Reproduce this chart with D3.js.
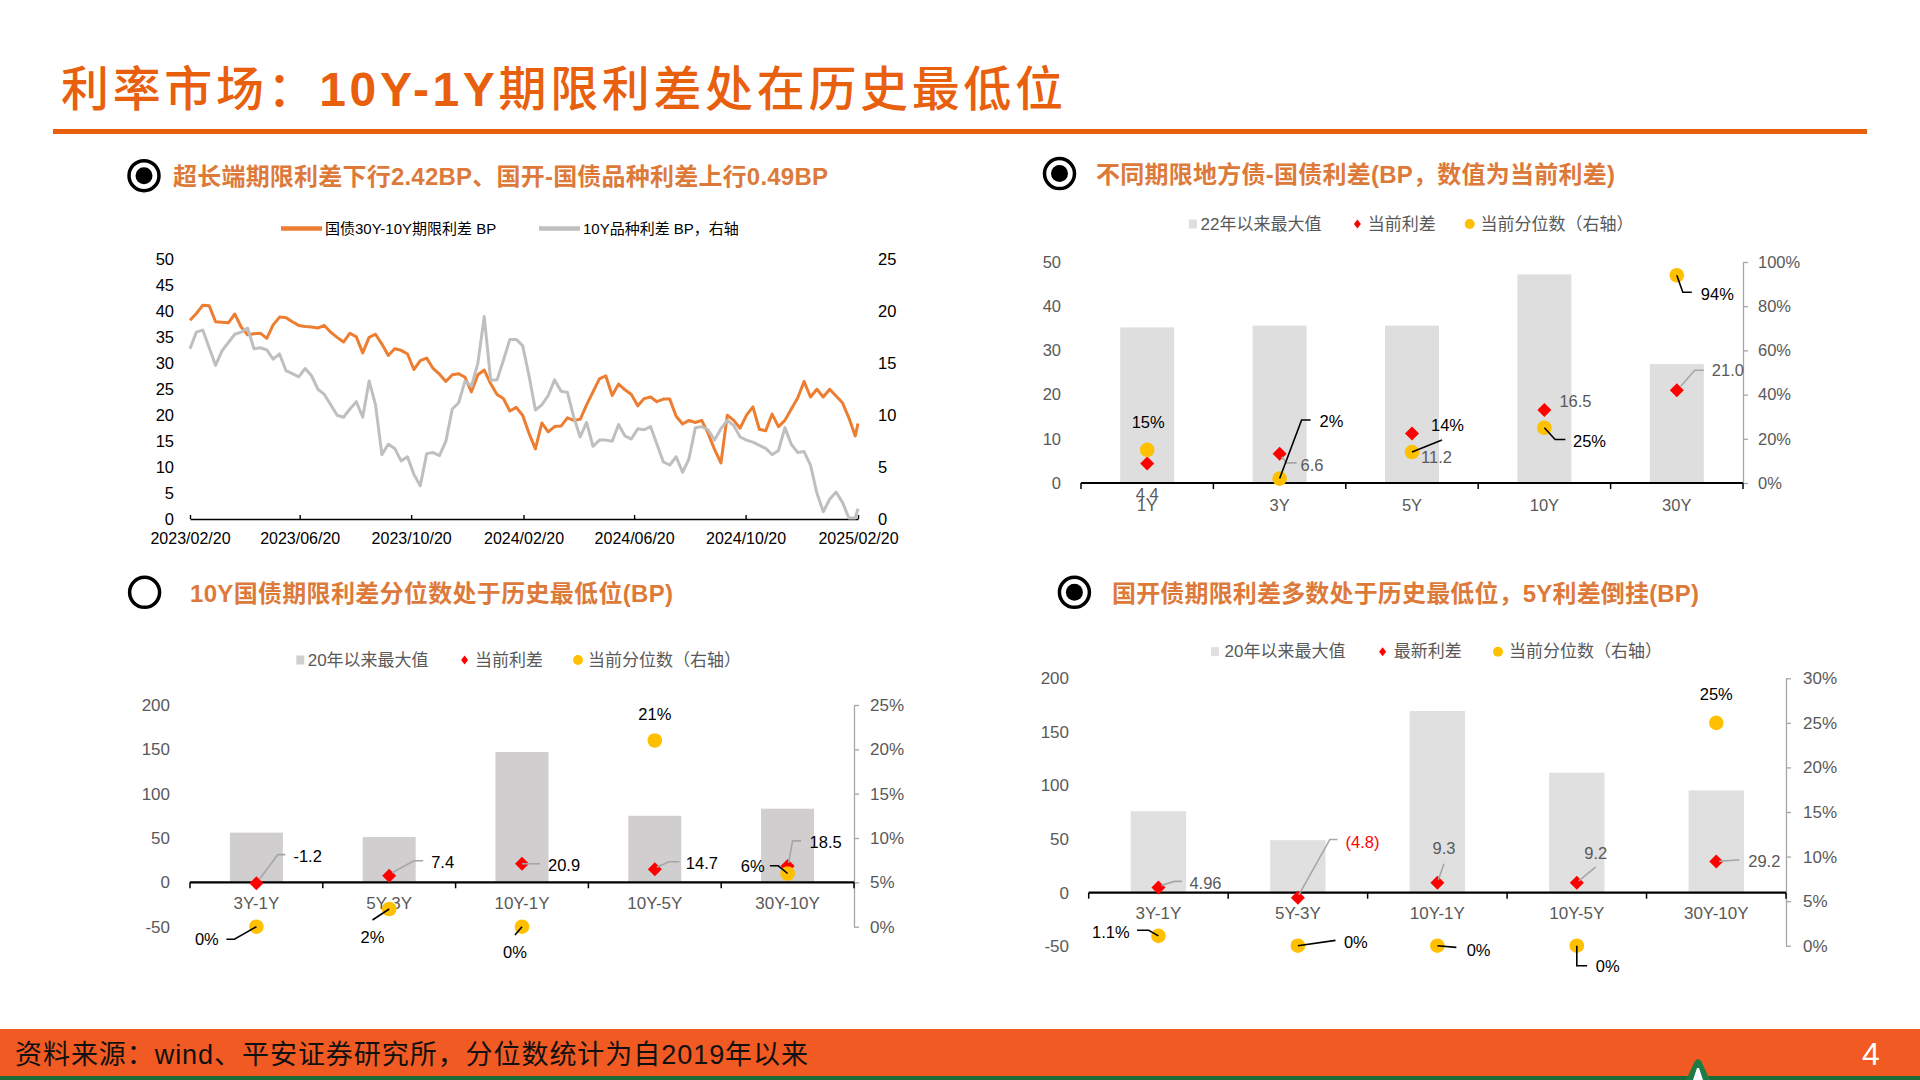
<!DOCTYPE html>
<html><head><meta charset="utf-8">
<script src="https://cdn.jsdelivr.net/npm/d3@7/dist/d3.min.js"></script>
<style>
html,body{margin:0;padding:0;background:#fff;}
svg{display:block}
text{font-family:"Liberation Sans",Arial,"Noto Sans CJK SC",sans-serif;}
</style></head><body>
<svg id="chart" width="1920" height="1080"></svg>
<script>
// ================= DATA =================
const mainTitleParts = ["利率市场：","10Y-1Y","期限利差处在历史最低位"];
const footerText = "资料来源：wind、平安证券研究所，分位数统计为自2019年以来";
const pageNo = "4";

// Panel 1 – line chart
const p1Title = "超长端期限利差下行2.42BP、国开-国债品种利差上行0.49BP";
const p1Names = ["国债30Y-10Y期限利差 BP", "10Y品种利差 BP，右轴"];
const p1Dates = ["2023-02-20","2023-02-27","2023-03-06","2023-03-13","2023-03-20","2023-03-27","2023-04-03","2023-04-10","2023-04-17","2023-04-24",
"2023-05-01","2023-05-08","2023-05-15","2023-05-22","2023-05-29","2023-06-05","2023-06-12","2023-06-19","2023-06-26","2023-07-03",
"2023-07-10","2023-07-17","2023-07-24","2023-07-31","2023-08-07","2023-08-14","2023-08-21","2023-08-28","2023-09-04","2023-09-11",
"2023-09-18","2023-09-25","2023-10-02","2023-10-09","2023-10-16","2023-10-23","2023-10-30","2023-11-06","2023-11-13","2023-11-20",
"2023-11-27","2023-12-04","2023-12-11","2023-12-18","2023-12-25","2024-01-01","2024-01-08","2024-01-15","2024-01-22","2024-01-29",
"2024-02-05","2024-02-12","2024-02-19","2024-02-26","2024-03-04","2024-03-11","2024-03-18","2024-03-25","2024-04-01","2024-04-08",
"2024-04-15","2024-04-22","2024-04-29","2024-05-06","2024-05-13","2024-05-20","2024-05-27","2024-06-03","2024-06-10","2024-06-17",
"2024-06-24","2024-07-01","2024-07-08","2024-07-15","2024-07-22","2024-07-29","2024-08-05","2024-08-12","2024-08-19","2024-08-26",
"2024-09-02","2024-09-09","2024-09-16","2024-09-23","2024-09-30","2024-10-07","2024-10-14","2024-10-21","2024-10-28","2024-11-04",
"2024-11-11","2024-11-18","2024-11-25","2024-12-02","2024-12-09","2024-12-16","2024-12-23","2024-12-30","2025-01-06","2025-01-13",
"2025-01-20","2025-01-27","2025-02-03","2025-02-10","2025-02-17","2025-02-20"];
const p1Term = [38.3,39.6,41.2,41.1,38.0,37.9,37.8,39.5,37.0,35.5,
35.7,35.8,34.8,37.4,38.9,38.8,38.0,37.3,37.1,37.0,
36.8,37.3,36.0,35.0,34.1,35.8,35.1,32.0,35.0,35.6,
33.7,31.5,32.8,32.5,31.8,28.8,30.5,31.0,29.0,27.9,
26.5,27.8,28.0,27.3,24.5,27.8,28.7,26.1,24.0,23.2,
20.8,21.5,20.0,16.5,13.5,18.5,16.8,17.8,17.9,19.5,
19.0,19.2,22.0,24.5,27.0,27.6,23.8,26.0,24.9,24.0,
21.8,23.2,23.5,22.6,23.1,23.1,19.8,18.3,19.0,18.6,
19.0,16.5,13.4,10.8,20.0,19.0,17.5,20.0,21.6,17.3,
17.0,20.2,17.8,19.0,21.2,23.3,26.5,23.5,25.0,23.5,
25.0,23.7,22.4,19.5,16.0,18.4];
const p1Variety = [16.4,18.0,18.2,16.5,14.8,16.2,17.0,17.8,18.0,18.4,
16.4,16.5,16.3,15.4,15.9,14.3,14.0,13.7,14.5,13.8,
12.5,12.0,11.0,10.0,9.8,10.6,11.3,9.8,13.3,11.0,
6.2,7.2,6.8,5.6,6.0,4.3,3.2,6.3,6.4,6.1,
7.5,10.6,11.2,13.3,12.8,15.0,19.5,13.4,13.4,15.3,
17.3,17.3,16.7,13.8,10.5,11.0,11.9,13.4,12.3,12.2,
9.8,7.9,9.3,7.0,7.6,7.6,7.5,9.1,8.0,7.7,
8.7,8.6,8.9,7.2,5.5,5.2,6.0,4.5,5.8,8.8,
8.9,8.6,7.6,8.7,9.5,9.0,7.9,7.6,7.4,7.1,
6.8,6.2,6.6,8.8,7.2,6.4,6.5,5.2,2.5,0.7,
1.9,2.6,1.6,0.1,0.1,1.0];
const p1DateTicks = ["2023-02-20","2023-06-20","2023-10-20","2024-02-20","2024-06-20","2024-10-20","2025-02-20"];
const p1LeftTicks = [0,5,10,15,20,25,30,35,40,45,50];
const p1RightTicks = [0,5,10,15,20,25];

// Panel 2
const p2Title = "不同期限地方债-国债利差(BP，数值为当前利差)";
const p2Legend = ["22年以来最大值","当前利差","当前分位数（右轴）"];
const p2Cats = ["1Y","3Y","5Y","10Y","30Y"];
const p2Max = [35.2,35.6,35.6,47.2,26.9];
const p2Spread = [4.4,6.6,11.2,16.5,21.0];
const p2Pct = [15,2,14,25,94];
const p2LeftTicks = [0,10,20,30,40,50];
const p2RightTicks = [0,20,40,60,80,100];

// Panel 3
const p3Title = "10Y国债期限利差分位数处于历史最低位(BP)";
const p3Legend = ["20年以来最大值","当前利差","当前分位数（右轴）"];
const p3Cats = ["3Y-1Y","5Y-3Y","10Y-1Y","10Y-5Y","30Y-10Y"];
const p3Max = [56,51,147,75,83];
const p3Spread = [-1.2,7.4,20.9,14.7,18.5];
const p3Pct = [0,2,0,21,6];
const p3LeftTicks = [-50,0,50,100,150,200];
const p3RightTicks = [0,5,10,15,20,25];

// Panel 4
const p4Title = "国开债期限利差多数处于历史最低位，5Y利差倒挂(BP)";
const p4Legend = ["20年以来最大值","最新利差","当前分位数（右轴）"];
const p4Cats = ["3Y-1Y","5Y-3Y","10Y-1Y","10Y-5Y","30Y-10Y"];
const p4Max = [76,49,169.5,112,95.5];
const p4Spread = [4.96,-4.8,9.3,9.2,29.2];
const p4Pct = [1.1,0,0,0,25];
const p4LeftTicks = [-50,0,50,100,150,200];
const p4RightTicks = [0,5,10,15,20,25,30];

// ================= STYLE / LAYOUT =================
const ORANGE_T = "#E8600E", ORANGE_S = "#DD7A3A", AX = "#595959";
const RED = "#FF0000", GOLD = "#FFC000";
const svg = d3.select("#chart");
const parse = d3.timeParse("%Y-%m-%d");
const num = v => String(v);
const fix1 = v => v.toFixed(1);

// header
const mt = svg.append("text").attr("x",61).attr("y",89).attr("dominant-baseline","central")
  .attr("font-size",48).attr("fill",ORANGE_T).attr("textLength",1002).attr("lengthAdjust","spacing");
mt.append("tspan").attr("font-weight",500).text(mainTitleParts[0]);
mt.append("tspan").attr("font-weight","bold").text(mainTitleParts[1]);
mt.append("tspan").attr("font-weight",500).text(mainTitleParts[2]);
svg.append("rect").attr("x",53).attr("y",129).attr("width",1814).attr("height",5).attr("fill",ORANGE_T);

// footer
svg.append("rect").attr("x",0).attr("y",1029).attr("width",1920).attr("height",47).attr("fill","#F15A22");
svg.append("rect").attr("x",0).attr("y",1076).attr("width",1920).attr("height",4).attr("fill","#1E6B3A");
svg.append("path").attr("d","M1686,1080 L1694,1063 Q1698,1055 1702,1063 L1710,1080 Z").attr("fill","#1E7B45");
svg.append("path").attr("d","M1693,1080 L1697,1068 L1699,1068 L1703,1080 Z").attr("fill","#fff");
svg.append("text").attr("x",15).attr("y",1055).attr("dominant-baseline","central")
  .attr("font-size",27).attr("fill","#111").attr("textLength",793).attr("lengthAdjust","spacing").text(footerText);
svg.append("text").attr("x",1871).attr("y",1054).attr("dominant-baseline","central").attr("text-anchor","middle")
  .attr("font-size",32).attr("fill","#fff").text(pageNo);

function panelHead(ix, iy, filled, tx, ty, tw, title){
  svg.append("circle").attr("cx",ix).attr("cy",iy).attr("r",15).attr("fill","none").attr("stroke","#000").attr("stroke-width",3.5);
  if(filled) svg.append("circle").attr("cx",ix).attr("cy",iy).attr("r",8.5).attr("fill","#000");
  svg.append("text").attr("x",tx).attr("y",ty).attr("dominant-baseline","central").attr("font-size",24)
    .attr("font-weight","bold").attr("fill",ORANGE_S).attr("textLength",tw).attr("lengthAdjust","spacing").text(title);
}
panelHead(144,175.7,true,173,176,655,p1Title);
panelHead(1059.5,173.6,true,1096,174,519,p2Title);
panelHead(144.6,592.3,false,190,593,483,p3Title);
panelHead(1074.4,592.3,true,1112,593,587,p4Title);

// ================= PANEL 1 =================
(function(){
  const g = svg.append("g");
  const x = d3.scaleTime().domain([parse("2023-02-20"),parse("2025-02-20")]).range([190,858]);
  const yL = d3.scaleLinear().domain([0,50]).range([519,259.5]);
  const yR = d3.scaleLinear().domain([0,25]).range([519,259.5]);
  // legend
  g.append("line").attr("x1",281).attr("x2",322).attr("y1",228.5).attr("y2",228.5).attr("stroke","#ED7D31").attr("stroke-width",4.5);
  g.append("text").attr("x",325).attr("y",228.5).attr("dominant-baseline","central").attr("font-size",15).attr("fill","#000").text(p1Names[0]);
  g.append("line").attr("x1",539).attr("x2",580).attr("y1",228.5).attr("y2",228.5).attr("stroke","#BFBFBF").attr("stroke-width",4.5);
  g.append("text").attr("x",583).attr("y",228.5).attr("dominant-baseline","central").attr("font-size",15).attr("fill","#000").text(p1Names[1]);
  // axes
  const la = g.append("g").attr("transform","translate(174,0)")
    .call(d3.axisLeft(yL).tickValues(p1LeftTicks).tickSize(0).tickPadding(0).tickFormat(num));
  la.select(".domain").remove();
  la.attr("font-family",null).attr("font-size",16.5).selectAll("text").attr("fill","#000");
  const ra = g.append("g").attr("transform","translate(878,0)")
    .call(d3.axisRight(yR).tickValues(p1RightTicks).tickSize(0).tickPadding(0).tickFormat(num));
  ra.select(".domain").remove();
  ra.attr("font-family",null).attr("font-size",16.5).selectAll("text").attr("fill","#000");
  const xa = g.append("g").attr("transform","translate(0,519)")
    .call(d3.axisBottom(x).tickValues(p1DateTicks.map(parse)).tickSizeInner(-4).tickSizeOuter(0).tickPadding(10)
      .tickFormat(d3.timeFormat("%Y/%m/%d")));
  xa.attr("font-family",null).attr("font-size",16).selectAll("text").attr("fill","#000").attr("y",14);
  xa.select(".domain").attr("stroke","#000").attr("stroke-width",1.6);
  xa.selectAll(".tick line").attr("stroke","#000").attr("stroke-width",1.4);
  // lines
  const dates = p1Dates.map(parse);
  const lineL = d3.line().x((d,i)=>x(dates[i])).y(d=>yL(d));
  const lineR = d3.line().x((d,i)=>x(dates[i])).y(d=>yR(d));
  g.append("path").datum(p1Term).attr("d",lineL).attr("fill","none").attr("stroke","#ED7D31").attr("stroke-width",3).attr("stroke-linejoin","round");
  g.append("path").datum(p1Variety).attr("d",lineR).attr("fill","none").attr("stroke","#BFBFBF").attr("stroke-width",3).attr("stroke-linejoin","round");
})();

// ================= COMBO PANELS =================
function comboPanel(c){
  const g = svg.append("g");
  const x = d3.scaleBand().domain(c.cats).range(c.xRange);
  const yL = d3.scaleLinear().domain(c.leftDomain).range(c.leftRange);
  const yR = d3.scaleLinear().domain(c.rightDomain).range(c.rightRange);
  const cx = k => x(k) + x.bandwidth()/2;
  const y0 = yL(0);

  // legend
  const L = c.leg;
  g.append("rect").attr("x",L.sq-4).attr("y",L.y-4.5).attr("width",8).attr("height",9).attr("fill",c.barColor);
  g.append("path").attr("d",`M${L.di},${L.y-4.5} L${L.di+3.5},${L.y} L${L.di},${L.y+4.5} L${L.di-3.5},${L.y} Z`).attr("fill",RED);
  g.append("circle").attr("cx",L.dot).attr("cy",L.y).attr("r",5).attr("fill",GOLD);
  [[L.t1,c.legend[0]],[L.t2,c.legend[1]],[L.t3,c.legend[2]]].forEach(([tx,t])=>{
    g.append("text").attr("x",tx).attr("y",L.y).attr("dominant-baseline","central").attr("font-size",17).attr("fill",AX).text(t);
  });

  // left axis labels
  const la = g.append("g").attr("transform",`translate(${c.leftX},0)`)
    .call(d3.axisLeft(yL).tickValues(c.leftTicks).tickSize(0).tickPadding(0).tickFormat(num));
  la.select(".domain").remove();
  la.attr("font-family",null).attr("font-size",c.fs).selectAll("text").attr("fill",AX);
  // right axis
  const ra = g.append("g").attr("transform",`translate(${c.xRange[1]},0)`)
    .call(d3.axisRight(yR).tickValues(c.rightTicks).tickSize(5).tickSizeOuter(0).tickPadding(c.rightPad).tickFormat(d=>d+"%"));
  ra.select(".domain").attr("stroke","#A6A6A6").attr("stroke-width",1.3);
  ra.selectAll(".tick line").attr("stroke","#A6A6A6").attr("stroke-width",1.3);
  ra.attr("font-family",null).attr("font-size",c.fs).selectAll("text").attr("fill",AX);

  // bars
  const bw = c.bw;
  g.selectAll("rect.bar").data(c.cats).join("rect").attr("class","bar")
    .attr("x",k=>cx(k)-bw/2).attr("width",bw)
    .attr("y",(k,i)=>yL(c.max[i])).attr("height",(k,i)=>y0-yL(c.max[i])).attr("fill",c.barColor);

  // category axis
  g.append("line").attr("x1",c.xRange[0]).attr("x2",c.xRange[1]).attr("y1",y0).attr("y2",y0).attr("stroke","#000").attr("stroke-width",2.2);
  const bounds = c.cats.map(k=>x(k)).concat([c.xRange[1]]);
  g.selectAll("line.bt").data(bounds).join("line").attr("class","bt")
    .attr("x1",d=>d).attr("x2",d=>d).attr("y1",y0).attr("y2",y0+6).attr("stroke","#000").attr("stroke-width",1.5);
  g.selectAll("text.cat").data(c.cats).join("text").attr("class","cat")
    .attr("x",cx).attr("y",y0+c.catDy).attr("text-anchor","middle").attr("dominant-baseline","central")
    .attr("font-size",c.fs).attr("fill",AX).text(d=>d);

  // diamonds
  g.selectAll("path.dm").data(c.cats).join("path").attr("class","dm")
    .attr("transform",(k,i)=>`translate(${cx(k)},${yL(c.spread[i])})`)
    .attr("d","M0,-7 L7,0 L0,7 L-7,0 Z").attr("fill",RED);
  // dots
  g.selectAll("circle.dt").data(c.cats).join("circle").attr("class","dt")
    .attr("cx",cx).attr("cy",(k,i)=>yR(c.pct[i])).attr("r",7.3).attr("fill",GOLD);

  // labels + leaders
  const drawLab = (px,py,o,txt,col,leadCol)=>{
    if(o.ld){
      g.append("polyline").attr("points",o.ld.map(p=>`${px+p[0]},${py+p[1]}`).join(" "))
        .attr("fill","none").attr("stroke",leadCol).attr("stroke-width",1.6);
    }
    g.append("text").attr("x",px+o.dx).attr("y",py+o.dy).attr("text-anchor",o.a).attr("dominant-baseline","central")
      .attr("font-size",16.5).attr("fill",col).text(txt);
  };
  c.cats.forEach((k,i)=>{
    const v = c.spread[i];
    drawLab(cx(k), yL(v), c.sLab[i], c.sFmt(v), v<0 && c.negRed ? RED : c.sColor, "#A6A6A6");
    drawLab(cx(k), yR(c.pct[i]), c.pLab[i], c.pct[i]+"%", "#000", "#000");
  });
}

comboPanel({
  cats:p2Cats, max:p2Max, spread:p2Spread, pct:p2Pct, legend:p2Legend,
  leftTicks:p2LeftTicks, rightTicks:p2RightTicks,
  xRange:[1081,1743], leftDomain:[0,50], leftRange:[483,262], rightDomain:[0,100], rightRange:[483,262],
  leftX:1061, rightPad:10, catDy:22, bw:54, fs:16.5, barColor:"#DEDEDE",
  sFmt:fix1, sColor:AX, negRed:false,
  leg:{y:224, sq:1193, t1:1200.5, di:1357.4, t2:1367.7, dot:1469.7, t3:1480.5},
  sLab:[{dx:0,dy:30,a:"middle"},
        {dx:21,dy:11,a:"start",ld:[[2,3],[7,9],[17,9]]},
        {dx:9,dy:24,a:"start"},
        {dx:15,dy:-9,a:"start"},
        {dx:35,dy:-20,a:"start",ld:[[4,-4],[18,-20],[27,-20]]}],
  pLab:[{dx:1,dy:-28,a:"middle"},
        {dx:40,dy:-58,a:"start",ld:[[0,0],[22,-58.6],[31,-58.6]]},
        {dx:19,dy:-27,a:"start",ld:[[0,0],[30,-12]]},
        {dx:28.6,dy:13.4,a:"start",ld:[[0,0],[10.7,11.8],[21,11.8]]},
        {dx:24,dy:19,a:"start",ld:[[0,0],[6,17],[15,17]]}]
});

comboPanel({
  cats:p3Cats, max:p3Max, spread:p3Spread, pct:p3Pct, legend:p3Legend,
  leftTicks:p3LeftTicks, rightTicks:p3RightTicks,
  xRange:[190,854], leftDomain:[-50,200], leftRange:[926.6,705], rightDomain:[0,25], rightRange:[926.7,705],
  leftX:170, rightPad:11, catDy:21, bw:53, fs:17, barColor:"#D0CECE",
  sFmt:fix1, sColor:"#000", negRed:false,
  leg:{y:660, sq:300.3, t1:307.7, di:464.6, t2:474.9, dot:578, t3:588},
  sLab:[{dx:37,dy:-27,a:"start",ld:[[3,-4],[21.5,-28.7],[29,-28.7]]},
        {dx:42,dy:-14,a:"start",ld:[[3,-3],[24.6,-15],[34,-15]]},
        {dx:26,dy:1,a:"start",ld:[[0,0],[18,0]]},
        {dx:31,dy:-6,a:"start",ld:[[2,-2],[14,-7.5],[24.6,-7.5]]},
        {dx:22,dy:-24,a:"start",ld:[[1,-3],[5,-25],[13.5,-25]]}],
  pLab:[{dx:-37.6,dy:12.6,a:"end",ld:[[0,0],[-22,12.6],[-30,12.6]]},
        {dx:-16.7,dy:28,a:"middle",ld:[[0,0],[-16.7,11]]},
        {dx:-7,dy:25,a:"middle",ld:[[0,0],[-7,8.3]]},
        {dx:0,dy:-26,a:"middle"},
        {dx:-23,dy:-7.7,a:"end",ld:[[0,0],[-9.3,-7.7],[-17.7,-7.7]]}]
});

comboPanel({
  cats:p4Cats, max:p4Max, spread:p4Spread, pct:p4Pct, legend:p4Legend,
  leftTicks:p4LeftTicks, rightTicks:p4RightTicks,
  xRange:[1088.7,1786], leftDomain:[-50,200], leftRange:[946.3,678.3], rightDomain:[0,30], rightRange:[945.7,678.3],
  leftX:1069, rightPad:12, catDy:20.5, bw:55.4, fs:17, barColor:"#E0E0E0",
  sFmt:v=> v<0 ? "("+(-v)+")" : String(v), sColor:AX, negRed:true,
  leg:{y:651.7, sq:1215, t1:1224.6, di:1382.6, t2:1393.8, dot:1498, t3:1509},
  sLab:[{dx:31,dy:-4,a:"start",ld:[[3,-2],[16,-6],[23.6,-6]]},
        {dx:47.6,dy:-56,a:"start",ld:[[1,-3],[32,-58.4],[39.6,-58.4]]},
        {dx:6.6,dy:-35,a:"middle",ld:[[1,-3],[6.6,-19]]},
        {dx:19,dy:-30,a:"middle",ld:[[2,-2],[19,-16]]},
        {dx:32,dy:0,a:"start",ld:[[3,0],[23,-1.7]]}],
  pLab:[{dx:-28.7,dy:-4,a:"end",ld:[[0,0],[-9.7,-5.7],[-21.4,-5.7]]},
        {dx:46,dy:-3.3,a:"start",ld:[[0,0],[37.6,-5.3]]},
        {dx:29.3,dy:4,a:"start",ld:[[0,0],[19,1.7]]},
        {dx:19,dy:20.6,a:"start",ld:[[0,0],[0,20],[10.3,20]]},
        {dx:0,dy:-29,a:"middle"}]
});
</script>
</body></html>
